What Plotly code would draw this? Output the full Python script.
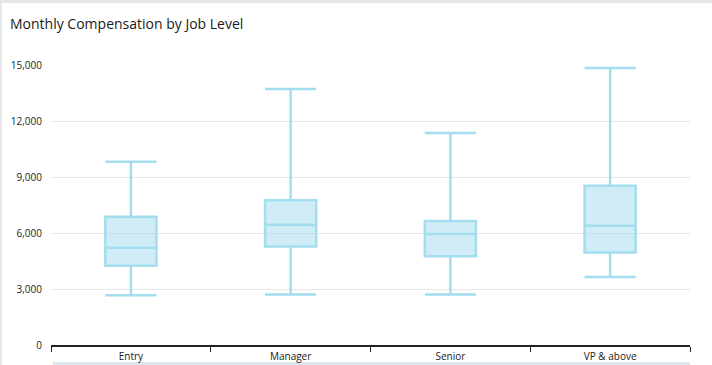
import plotly.graph_objects as go

levels = ["Entry", "Manager", "Senior", "VP & above"]
lower = [2660, 2710, 2710, 3640]
q1 = [4250, 5280, 4750, 4960]
median = [5210, 6440, 5950, 6390]
q3 = [6870, 7750, 6640, 8530]
upper = [9820, 13710, 11360, 14840]
y_ticks = [0, 3000, 6000, 9000, 12000, 15000]

W, H = 712, 365
ml, mr, mt, mb = 51, 22, 65, 20
pw, ph = W - ml - mr, H - mt - mb

fig = go.Figure()
fig.add_trace(go.Box(
    x=levels, q1=q1, median=median, q3=q3,
    lowerfence=lower, upperfence=upper,
    width=0.32, whiskerwidth=1,
    line=dict(color="#a3ddef", width=2.5),
    fillcolor="rgba(162,218,238,0.5)",
    boxpoints=False, showlegend=False, hoverinfo="y",
))

def px(x):
    return (x - ml) / pw

def py(y):
    return 1 - (y - mt) / ph

shapes = [
    dict(type="rect", xref="paper", yref="paper", x0=px(0), x1=px(2), y0=py(H), y1=py(0),
         fillcolor="#e6e6e6", line=dict(width=0), layer="below"),
    dict(type="rect", xref="paper", yref="paper", x0=px(0), x1=px(W), y0=py(3), y1=py(0),
         fillcolor="#e6e6e6", line=dict(width=0), layer="below"),
    dict(type="rect", xref="paper", yref="paper", x0=px(53), x1=px(690), y0=py(365), y1=py(362),
         fillcolor="#dde7f2", line=dict(width=0), layer="below"),
]

fig.update_layout(
    width=W, height=H,
    margin=dict(l=ml, r=mr, t=mt, b=mb, autoexpand=False),
    paper_bgcolor="white", plot_bgcolor="white",
    font=dict(family="Open Sans, Noto Sans, sans-serif", size=10, color="#222"),
    title=dict(text="Monthly Compensation by Job Level", x=10 / W, xanchor="left",
               y=1 - 24 / H, yanchor="middle",
               font=dict(size=14, color="#1a1a1a")),
    shapes=shapes,
    xaxis=dict(type="category", categoryorder="array", categoryarray=levels,
               range=[-0.5, len(levels) - 0.5],
               tickson="boundaries", ticks="outside", ticklen=5, tickcolor="#222",
               showline=True, linecolor="#222", linewidth=1.5, showgrid=False,
               automargin=False, ticklabelstandoff=1,
               tickfont=dict(size=10, color="#222")),
    yaxis=dict(range=[0, 15000], tickvals=y_ticks, tickformat=",d",
               showgrid=True, gridcolor="#e6e6e6", gridwidth=1, zeroline=False,
               showline=False, ticks="", ticklabelstandoff=8, automargin=False,
               tickfont=dict(size=10, color="#222")),
)

fig.write_html("out.html", config={"displayModeBar": False},
               post_script="document.body.style.margin='0';document.body.style.overflow='hidden';")
